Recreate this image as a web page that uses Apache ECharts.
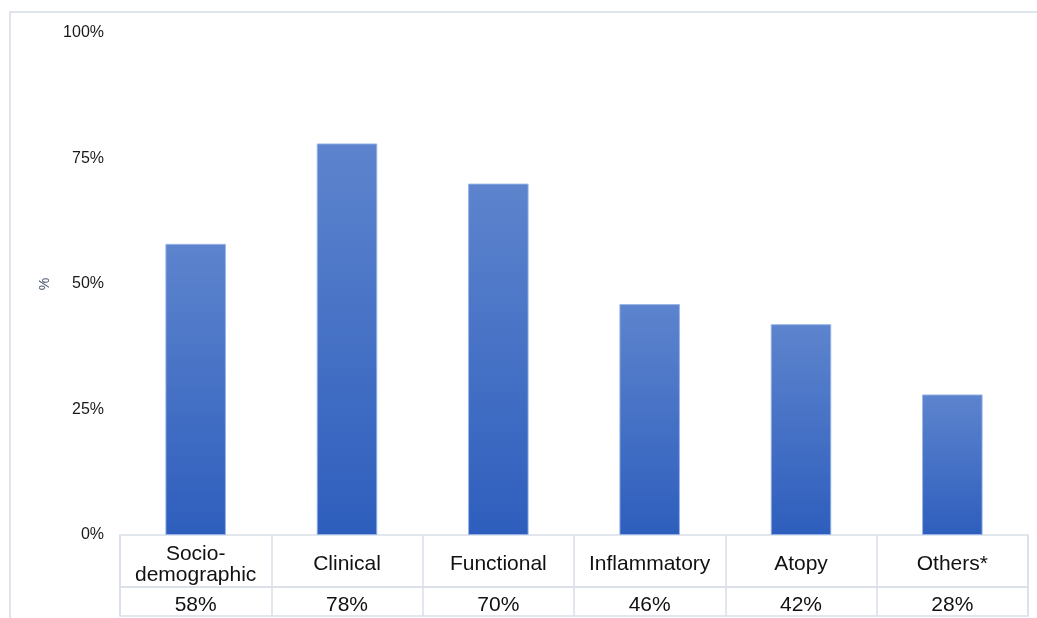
<!DOCTYPE html>
<html>
<head>
<meta charset="utf-8">
<style>
  html, body { margin: 0; padding: 0; background: #ffffff; }
  #chart { width: 1037px; height: 618px; }
</style>
<script src="https://cdn.jsdelivr.net/npm/echarts@6/dist/echarts.min.js"></script>
</head>
<body>
<div id="chart"></div>
<script>
// Predictor groups and the share of studies reporting each one
const categories = ['Socio-\ndemographic', 'Clinical', 'Functional', 'Inflammatory', 'Atopy', 'Others*'];
const values = [58, 78, 70, 46, 42, 28];
const yTicks = [0, 25, 50, 75, 100];

const lineColor = '#d9dee8';
const textFont = 'Liberation Sans, Arial, sans-serif';

const chart = echarts.init(document.getElementById('chart'), null, { renderer: 'canvas' });

const tableAxis = (gridIndex) => ({
  type: 'category',
  gridIndex,
  data: categories,
  boundaryGap: true,
  axisLine: { show: false },
  axisTick: { show: false },
  axisLabel: { show: false },
  splitLine: { show: true, lineStyle: { color: lineColor, width: 1.5 } }
});
const tableYAxis = (gridIndex) => ({
  type: 'value', gridIndex, min: 0, max: 1, show: false
});

// Data-table cell: text centred in its column of the table grid
const cellSeries = (gridIndex, textOf) => ({
  type: 'custom',
  xAxisIndex: gridIndex,
  yAxisIndex: gridIndex,
  silent: true,
  data: categories.map((c, i) => [i, 0.5]),
  renderItem: (params, api) => {
    const pt = api.coord([api.value(0), api.value(1)]);
    return {
      type: 'text',
      x: pt[0],
      y: pt[1] + 3.5,
      style: {
        text: textOf(params.dataIndex),
        fill: '#111111',
        font: '21px ' + textFont,
        lineHeight: 21,
        align: 'center',
        verticalAlign: 'middle'
      }
    };
  }
});

chart.setOption({
  animation: false,
  backgroundColor: '#ffffff',
  graphic: [{
    type: 'rect',
    shape: { x: 10, y: 12, width: 1040, height: 620 },
    style: { fill: 'none', stroke: '#e0e4ec', lineWidth: 2 },
    silent: true,
    z: 0
  }],
  grid: [
    { left: 120, right: 9, top: 33, bottom: 83 },
    { left: 120, right: 9, top: 535, height: 52, show: true, borderColor: lineColor, borderWidth: 1.5 },
    { left: 120, right: 9, top: 587, height: 29, show: true, borderColor: lineColor, borderWidth: 1.5 }
  ],
  xAxis: [
    {
      type: 'category',
      gridIndex: 0,
      data: categories,
      axisLine: { show: false },
      axisTick: { show: false },
      axisLabel: { show: false }
    },
    tableAxis(1),
    tableAxis(2)
  ],
  yAxis: [
    {
      type: 'value',
      gridIndex: 0,
      min: yTicks[0],
      max: yTicks[yTicks.length - 1],
      interval: yTicks[1] - yTicks[0],
      name: '%',
      nameLocation: 'middle',
      nameRotate: 90,
      nameGap: 68,
      nameTextStyle: { color: '#44546a', fontSize: 14, fontFamily: textFont },
      axisLine: { show: false },
      axisTick: { show: false },
      splitLine: { show: false },
      axisLabel: {
        formatter: '{value}%',
        color: '#1a1a1a',
        fontSize: 16,
        fontFamily: textFont,
        margin: 16
      }
    },
    tableYAxis(1),
    tableYAxis(2)
  ],
  series: [
    {
      type: 'bar',
      xAxisIndex: 0,
      yAxisIndex: 0,
      data: values,
      barWidth: '40%',
      itemStyle: {
        color: new echarts.graphic.LinearGradient(0, 0, 0, 1, [
          { offset: 0, color: '#5d84cd' },
          { offset: 1, color: '#2e5ebd' }
        ]),
        borderColor: 'rgba(150,178,232,0.9)',
        borderWidth: 1
      }
    },
    cellSeries(1, i => categories[i]),
    cellSeries(2, i => values[i] + '%')
  ]
});
</script>
</body>
</html>
